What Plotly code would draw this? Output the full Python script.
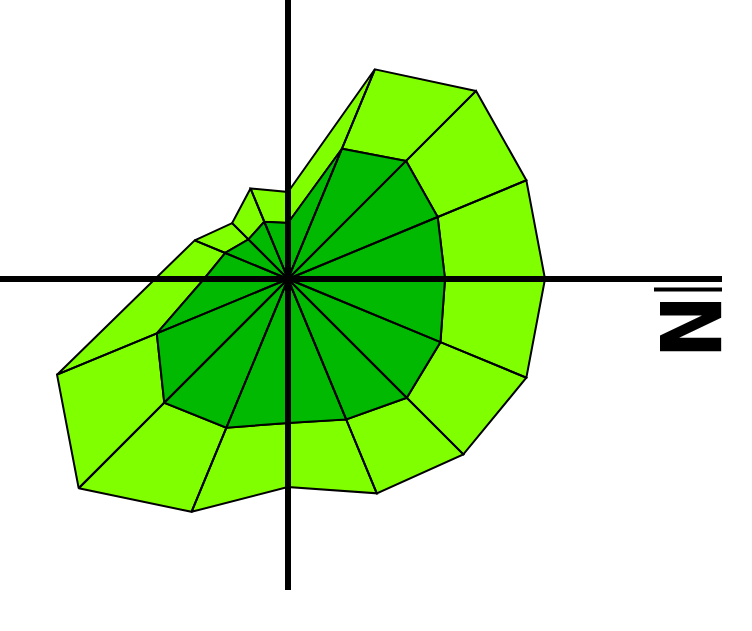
import numpy as np
import plotly.graph_objects as go

# 16 compass sectors, angle in degrees (counter-clockwise from the right)
angles = [0, 22.5, 45, 67.5, 90, 112.5, 135, 157.5, 180, 202.5, 225, 247.5, 270, 292.5, 315, 337.5]
# stacked wind-rose style bands
inner = [7.85, 8.1, 8.35, 7.05, 2.8, 3.1, 2.8, 3.4, 4.2, 7.1, 8.75, 8.05, 7.2, 7.6, 8.4, 8.25]
band = [5.0, 4.8, 4.95, 4.3, 1.55, 1.8, 1.15, 1.65, 2.45, 5.4, 6.05, 4.55, 3.2, 4.0, 4.0, 4.65]

inner_col = "#00b900"
outer_col = "#80ff00"

th = np.radians(angles)
r_in = np.array(inner)
r_out = r_in + np.array(band)

xi, yi = r_in * np.cos(th), r_in * np.sin(th)
xo, yo = r_out * np.cos(th), r_out * np.sin(th)

n = len(angles)
in_x, in_y, out_x, out_y = [], [], [], []
for i in range(n):
    j = (i + 1) % n
    in_x += [0, xi[i], xi[j], 0, None]
    in_y += [0, yi[i], yi[j], 0, None]
    out_x += [xi[i], xo[i], xo[j], xi[j], xi[i], None]
    out_y += [yi[i], yo[i], yo[j], yi[j], yi[i], None]

fig = go.Figure()
fig.add_trace(go.Scatter(x=out_x, y=out_y, mode="lines", fill="toself", fillcolor=outer_col,
                         line=dict(color="black", width=2), hoverinfo="skip"))
fig.add_trace(go.Scatter(x=in_x, y=in_y, mode="lines", fill="toself", fillcolor=inner_col,
                         line=dict(color="black", width=2), hoverinfo="skip"))

# crosshair axes
fig.add_shape(type="line", xref="x", yref="paper", x0=0, x1=0, y0=0, y1=1,
              line=dict(color="black", width=6))
fig.add_shape(type="line", xref="paper", yref="y", x0=0, x1=1, y0=0, y1=0,
              line=dict(color="black", width=6))
fig.add_shape(type="line", xref="x", yref="y", x0=18.3, x1=21.7, y0=-0.52, y1=-0.52,
              line=dict(color="black", width=4))

fig.add_annotation(text="<b>N</b>", textangle=90, xref="paper", yref="y", x=1, y=-2.35,
                   xanchor="right", yanchor="middle", showarrow=False, xshift=18,
                   font=dict(family="Liberation Sans Narrow, DejaVu Sans Condensed, Arial", size=84, color="black"))

fig.update_xaxes(range=[-14.4, 21.7], visible=False, showgrid=False, zeroline=False)
fig.update_yaxes(range=[-15.55, 13.95], visible=False, showgrid=False, zeroline=False)
fig.update_layout(width=752, height=631, margin=dict(l=0, r=30, t=0, b=41),
                  plot_bgcolor="white", paper_bgcolor="white", showlegend=False)

fig.write_html("out.html", config={"displayModeBar": False},
               post_script="document.body.style.margin='0';document.body.style.overflow='hidden';")
